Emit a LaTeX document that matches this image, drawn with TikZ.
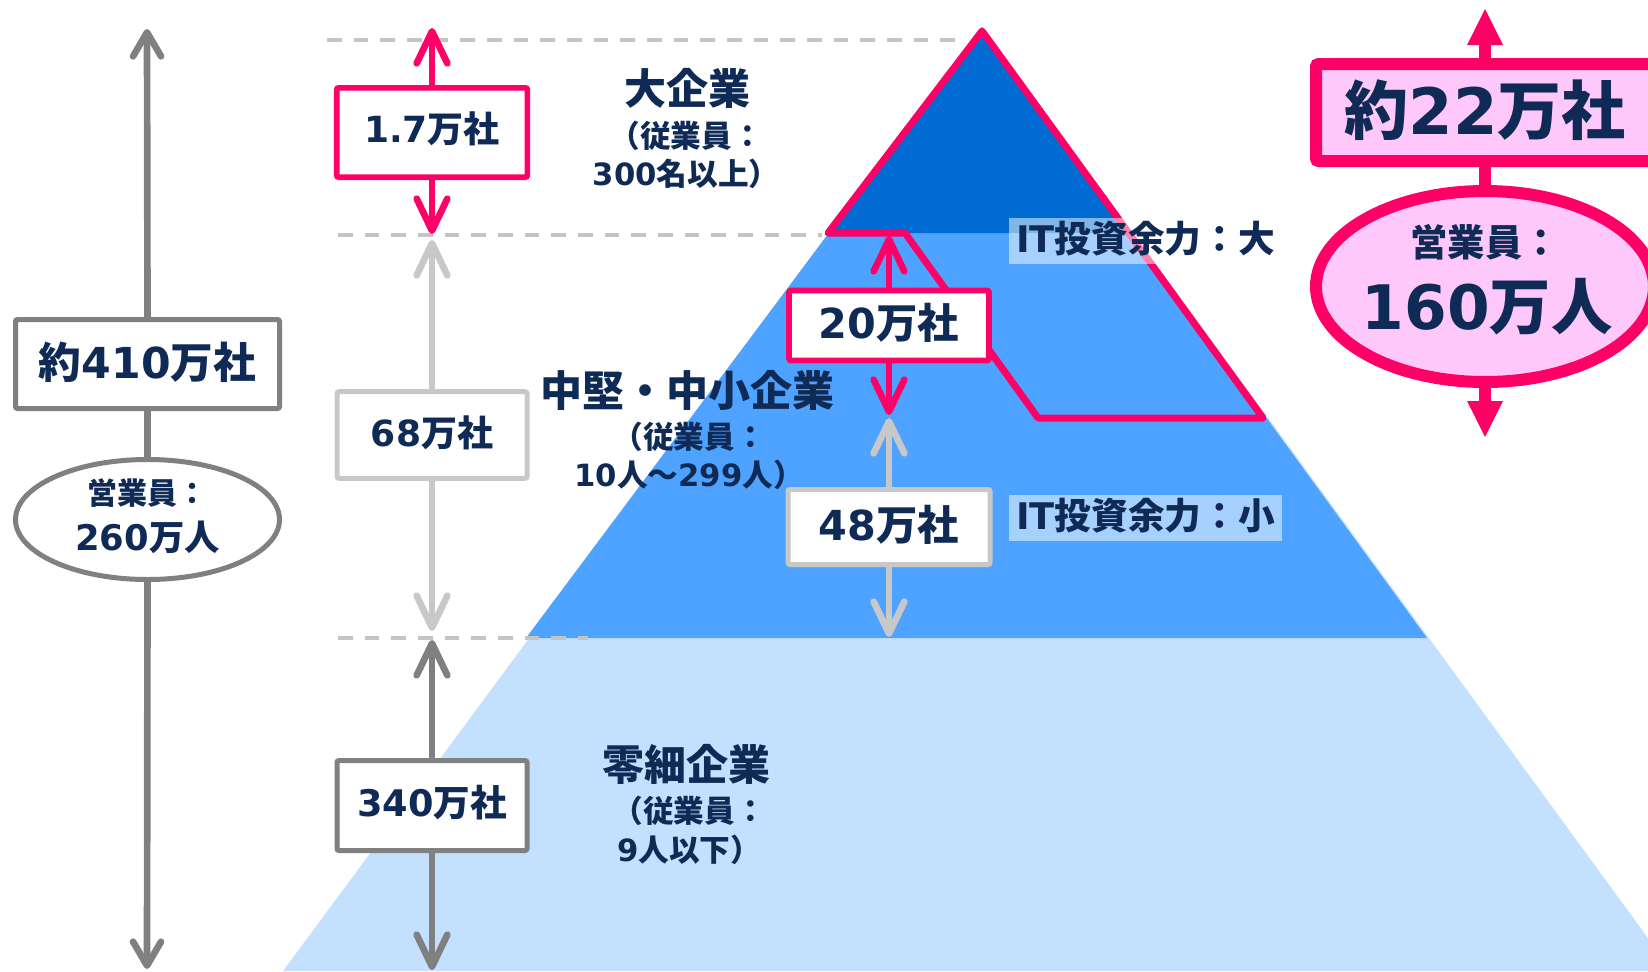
\documentclass[tikz,border=0pt]{standalone}
\usepackage{fontspec}
\setmainfont{Noto Sans CJK JP}
\newfontfamily\dvfont{DejaVu Sans}
\newcommand\D[1]{{\dvfont\bfseries #1}}
\newcommand\fsz[2]{\fontsize{#1}{#2}\selectfont}
\usetikzlibrary{arrows.meta,shapes.geometric}
\definecolor{navy}{HTML}{102A56}
\definecolor{pinkc}{HTML}{FF0066}
\definecolor{pinkfill}{HTML}{FFC8FA}
\definecolor{darkblue}{HTML}{006BD3}
\definecolor{midblue}{HTML}{4DA3FF}
\definecolor{lightblue}{HTML}{C4E0FF}
\definecolor{grayc}{HTML}{808080}
\definecolor{lgray}{HTML}{C8C8C8}
\definecolor{dashc}{HTML}{C4C4C4}
\begin{document}
\begin{tikzpicture}[x=0.75pt,y=-0.75pt,
 boxg/.style={draw=grayc,fill=white,line width=3.75pt,inner sep=0pt,rounded corners=1.5pt,text=navy},
 boxlg/.style={boxg,draw=lgray},
 boxp/.style={boxg,draw=pinkc,line width=4.25pt},
 ellg/.style={ellipse,draw=grayc,fill=white,line width=3.75pt,inner sep=0pt},
 arrbase/.style={line width=5pt},
 arrg/.style={arrbase,draw=grayc,-{Straight Barb[length=24pt,width=23pt,round]}},
 arrlg/.style={arrg,draw=lgray},
 arrp/.style={arrg,draw=pinkc},
 arrbig/.style={arrbase,draw=grayc,-{Straight Barb[length=18pt,width=21pt,round]}},
 linkg/.style={arrbase,draw=grayc},
 rarr/.style={draw=pinkc,line width=9pt,-{Triangle[length=27pt,width=27pt,line width=0pt]}},
 rlink/.style={draw=pinkc,line width=9pt},
 rbox/.style={draw=pinkc,fill=pinkfill,line width=9pt,inner sep=0pt,rounded corners=2pt,text=navy},
 rell/.style={ellipse,draw=pinkc,fill=pinkfill,line width=9pt,inner sep=0pt},
 txt/.style={text=navy,inner sep=0pt},
 ttl/.style={txt,font=\bfseries\fsz{31.5pt}{36pt}},
 sub/.style={txt,align=center,font=\bfseries\fsz{23pt}{29pt}},
 itl/.style={txt,fill=white,fill opacity=0.5,text opacity=1,minimum width=204.75pt,minimum height=34.5pt,font=\bfseries\fsz{27.5pt}{30pt}},
 dashln/.style={draw=dashc,line width=3pt,dash pattern=on 11pt off 9pt}
]
\useasboundingbox (0,0) rectangle (1648,971);
\clip (0,0) rectangle (1648,971);

% pyramid
\fill[lightblue] (982,26) -- (283,971) -- (1672,971) -- cycle;
\fill[midblue] (982,28) -- (526,638) -- (1427,638) -- cycle;
\fill[darkblue] (982,31) -- (828,233) -- (1131,233) -- cycle;

% dashed guide lines
\draw[dashln] (327,40) -- (955,40);
\draw[dashln] (338,235) -- (822,235);
\draw[dashln] (338,638) -- (588,638);

% pink outline
\draw[pinkc,line width=5.25pt,line join=round] (982,31) -- (828,233) -- (905,233) -- (1038,418) -- (1263,418) -- cycle;

% left column
\node[boxg,minimum width=198pt,minimum height=66.75pt,font=\bfseries\fsz{32pt}{36pt}] (L410) at (147.5,364) {\raisebox{6pt}{約\D{410}万社}};
\node[ellg,minimum width=198pt,minimum height=90pt] (L260) at (147.5,519.5) {};
\node[txt,font=\bfseries\fsz{22.5pt}{26pt}] (L260a) at (147.5,493) {営業員：};
\node[txt,font=\bfseries\fsz{26.5pt}{30pt}] (L260b) at (147.5,537) {\D{260}万人};
\coordinate (Ltop) at (147,29);
\coordinate (Lbot) at (147,969);
\draw[arrbig] (L410.north) -- (Ltop);
\draw[linkg] (L410.south) -- (L260.north);
\draw[arrbig] (L260.south) -- (Lbot);

% middle column
\node[boxp,minimum width=143pt,minimum height=67pt,font=\bfseries\fsz{27pt}{30pt}] (P17) at (432,132.5) {\raisebox{7.5pt}{\D{1.7}万社}};
\node[boxlg,minimum width=142.5pt,minimum height=65pt,font=\bfseries\fsz{27pt}{30pt}] (B68) at (432,435) {\raisebox{6pt}{\D{68}万社}};
\node[boxg,minimum width=142.5pt,minimum height=67.5pt,font=\bfseries\fsz{27.5pt}{30pt}] (B340) at (432,805.5) {\raisebox{6.5pt}{\D{340}万社}};
\coordinate (P17t) at (432,28);
\coordinate (P17b) at (432,234);
\coordinate (B68t) at (432,240);
\coordinate (B68b) at (432,631);
\coordinate (B340t) at (432,640);
\coordinate (B340b) at (432,970);
\draw[arrp] (P17.north) -- (P17t);
\draw[arrp] (P17.south) -- (P17b);
\draw[arrlg] (B68.north) -- (B68t);
\draw[arrlg] (B68.south) -- (B68b);
\draw[arrg] (B340.north) -- (B340t);
\draw[arrg] (B340.south) -- (B340b);

% pyramid column
\node[boxp,minimum width=150pt,minimum height=52.5pt,font=\bfseries\fsz{31pt}{34pt}] (P20) at (889,325.5) {\raisebox{6.5pt}{\D{20}万社}};
\node[boxlg,minimum width=151.5pt,minimum height=56.25pt,font=\bfseries\fsz{31pt}{34pt}] (B48) at (889,527) {\raisebox{6.5pt}{\D{48}万社}};
\coordinate (P20t) at (889,236);
\coordinate (P20b) at (889,415);
\coordinate (B48t) at (889,418);
\coordinate (B48b) at (889,637);
\draw[arrlg] (B48.north) -- (B48t);
\draw[arrlg] (B48.south) -- (B48b);
\draw[arrp] (P20.north) -- (P20t);
\draw[arrp] (P20.south) -- (P20b);

% category labels
\node[ttl] (tBig) at (687,88) {大企業};
\node[sub] (sBig) at (686,155) {（従業員：\\\D{300}名以上）};
\node[ttl] (tMid) at (687.5,390) {中堅・中小企業};
\node[sub] (sMid) at (689,456) {（従業員：\\\D{10}人～\D{299}人）};
\node[ttl] (tSmall) at (686,764) {零細企業};
\node[sub] (sSmall) at (689,830) {（従業員：\\\D{9}人以下）};

% IT labels
\node[itl] (it1) at (1145.5,241) {\raisebox{6pt}{\D{IT}投資余力：大}};
\node[itl] (it2) at (1145.5,518) {\raisebox{6pt}{\D{IT}投資余力：小}};

% right column
\node[rbox,minimum width=253.5pt,minimum height=72.75pt,font=\bfseries\fsz{48pt}{52pt}] (R22) at (1485,112.5) {\raisebox{8pt}{約\D{22}万社}};
\node[rell,minimum width=253.5pt,minimum height=143.25pt] (R160) at (1485,286.5) {};
\node[txt,font=\bfseries\fsz{28pt}{30pt}] (R160a) at (1485,242) {営業員：};
\node[txt,font=\bfseries\fsz{46pt}{50pt}] (R160b) at (1487,307) {\D{160}万人};
\coordinate (Rtop) at (1485,9);
\coordinate (Rbot) at (1485,437);
\draw[rarr] (R22.north) -- (Rtop);
\draw[rlink] (R22.south) -- (R160.north);
\draw[rarr] (R160.south) -- (Rbot);
\end{tikzpicture}
\end{document}
